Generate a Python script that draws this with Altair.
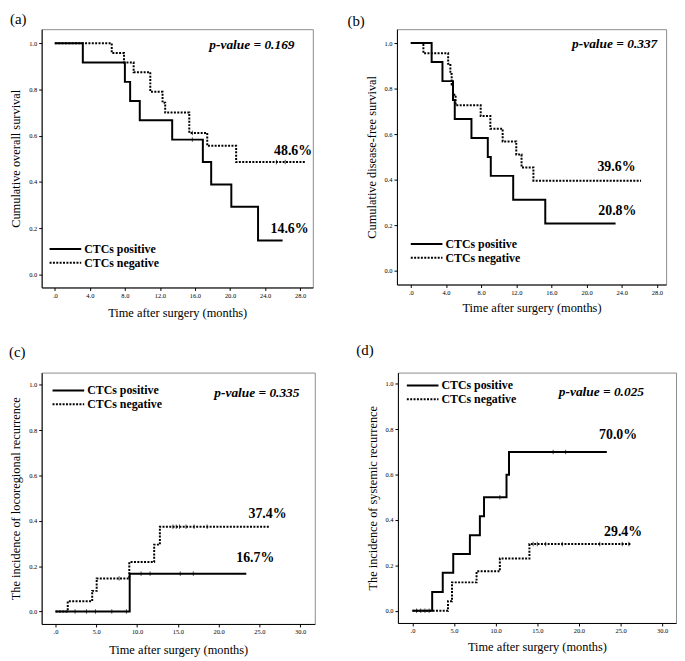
import altair as alt
import pandas as pd

FONT = "Liberation Serif"
GROUPS = ["CTCs positive", "CTCs negative"]
DASHES = [[1, 0], [2, 1.4]]

# ---------------- Panel (a): overall survival ----------------
A_POS_T = [0, 3.2, 8.0, 8.6, 9.7, 13.4, 16.9, 17.85, 20.15, 23.2, 26.0]
A_POS_S = [1.0, 0.917, 0.833, 0.75, 0.667, 0.583, 0.486, 0.389, 0.292, 0.146, 0.146]
A_NEG_T = [0, 6.5, 7.9, 9.0, 10.9, 12.3, 12.6, 15.35, 17.4, 20.7, 28.6]
A_NEG_S = [1.0, 0.958, 0.917, 0.875, 0.79, 0.743, 0.70, 0.612, 0.556, 0.486, 0.486]
A_POS_CENS = [15.7]
A_NEG_CENS = [15.7, 25.3, 26.3]

# ---------------- Panel (b): disease-free survival ----------------
B_POS_T = [0, 2.37, 3.6, 4.8, 5.0, 6.9, 8.76, 9.1, 11.65, 15.3, 23.3]
B_POS_S = [1.0, 0.917, 0.833, 0.75, 0.667, 0.583, 0.5, 0.417, 0.3125, 0.208, 0.208]
B_NEG_T = [0, 1.43, 4.25, 4.5, 4.65, 4.8, 5.1, 7.95, 9.05, 10.45, 12.0, 12.6, 13.95, 26.2]
B_NEG_S = [1.0, 0.955, 0.909, 0.864, 0.818, 0.773, 0.727, 0.68, 0.624, 0.568, 0.511, 0.454, 0.396, 0.396]
B_POS_CENS = []
B_NEG_CENS = []

# ---------------- Panel (c): locoregional recurrence ----------------
C_POS_T = [0, 9.1, 23.4]
C_POS_S = [0, 0.167, 0.167]
C_NEG_T = [0, 1.5, 4.5, 5.05, 9.05, 12.1, 12.8, 26.3]
C_NEG_S = [0, 0.045, 0.091, 0.146, 0.218, 0.295, 0.374, 0.374]
C_POS_CENS = [2.4, 3.8, 4.9, 6.9, 8.7, 10.5, 11.6, 15.3, 16.9]
C_NEG_CENS = [7.8, 14.4, 14.8, 15.2, 16.0, 17.0, 18.6]

# ---------------- Panel (d): systemic recurrence ----------------
D_POS_T = [0, 2.37, 3.64, 4.9, 6.9, 8.1, 8.6, 11.3, 11.6, 23.35]
D_POS_S = [0, 0.083, 0.167, 0.25, 0.333, 0.417, 0.5, 0.6, 0.7, 0.7]
D_NEG_T = [0, 4.27, 4.75, 7.7, 10.5, 14.05, 26.3]
D_NEG_S = [0, 0.042, 0.125, 0.174, 0.23, 0.294, 0.294]
D_POS_CENS = [0.5, 1.0, 1.5, 2.0, 10.5, 16.9, 18.4]
D_NEG_CENS = [14.5, 15.0, 16.0, 18.0, 22.5, 25.2, 26.0]

Y_TICKS = [0.0, 0.2, 0.4, 0.6, 0.8, 1.0]
X_TICKS_28 = [0, 4, 8, 12, 16, 20, 24, 28]
X_TICKS_30 = [0, 5, 10, 15, 20, 25, 30]


def step_df(t, s, group):
    return pd.DataFrame({"t": t, "s": s, "group": group})


def value_at(times, t, s):
    out = []
    for c in times:
        v = s[0]
        for ti, si in zip(t, s):
            if ti <= c:
                v = si
        out.append(v)
    return out


def legend_layers(lx, ly):
    layers = []
    for i, (g, d) in enumerate(zip(GROUPS, DASHES)):
        yy = ly + i * 14
        layers.append(
            alt.Chart(pd.DataFrame({"g": [g]})).mark_rule(
                color="black", strokeWidth=2, strokeDash=d).encode(
                x=alt.value(lx), x2=alt.value(lx + 32), y=alt.value(yy)))
        layers.append(
            alt.Chart(pd.DataFrame({"g": [g]})).mark_text(
                font=FONT, fontSize=12, fontWeight="bold", align="left",
                baseline="middle", color="black").encode(
                x=alt.value(lx + 35), y=alt.value(yy), text="g:N"))
    return layers


def panel(letter, letter_x, letter_y, pos_t, pos_s, neg_t, neg_s, pos_c, neg_c,
          xdom, xticks, ydom, w, h, ytitle, x_tp,
          pval, pval_xy, pct, legend_xy):
    lines = pd.concat([step_df(pos_t, pos_s, GROUPS[0]),
                       step_df(neg_t, neg_s, GROUPS[1])])
    cens = pd.concat([
        pd.DataFrame({"t": pos_c, "s": value_at(pos_c, pos_t, pos_s)}),
        pd.DataFrame({"t": neg_c, "s": value_at(neg_c, neg_t, neg_s)}),
    ])
    xs = alt.Scale(domain=xdom, nice=False, zero=False)
    ys = alt.Scale(domain=ydom, nice=False, zero=False)
    xaxis = alt.Axis(values=xticks, title="Time after surgery (months)",
                     labelExpr="datum.value == 0 ? '.0' : format(datum.value, '.1f')",
                     titlePadding=x_tp, labelOverlap=False)
    yaxis = alt.Axis(values=Y_TICKS, format=".1f", title=ytitle, titlePadding=6,
                     labelOverlap=False)

    line = alt.Chart(lines).mark_line(interpolate="step-after", color="black",
                                      strokeWidth=2, clip=True).encode(
        x=alt.X("t:Q", scale=xs, axis=xaxis),
        y=alt.Y("s:Q", scale=ys, axis=yaxis),
        strokeDash=alt.StrokeDash(
            "group:N", scale=alt.Scale(domain=GROUPS, range=DASHES), legend=None),
        detail="group:N",
    )
    ticks = alt.Chart(cens).mark_point(shape="M0,-1L0,1", size=20, color="black",
                                       strokeWidth=1, filled=False).encode(
        x=alt.X("t:Q", scale=xs, axis=xaxis), y=alt.Y("s:Q", scale=ys, axis=yaxis))
    ptxt = alt.Chart(pd.DataFrame({"x": [pval_xy[0]], "y": [pval_xy[1]],
                                   "t": ["p-value = " + pval]})).mark_text(
        font=FONT, fontSize=13.5, fontWeight="bold", fontStyle="italic",
        color="black").encode(x=alt.X("x:Q", scale=xs, axis=xaxis),
                              y=alt.Y("y:Q", scale=ys, axis=yaxis), text="t:N")
    pctxt = alt.Chart(pd.DataFrame({"x": [p[1] for p in pct], "y": [p[2] for p in pct],
                                    "t": [p[0] for p in pct]})).mark_text(
        font=FONT, fontSize=14, fontWeight="bold", color="black").encode(
        x=alt.X("x:Q", scale=xs, axis=xaxis), y=alt.Y("y:Q", scale=ys, axis=yaxis),
        text="t:N")
    ltxt = alt.Chart(pd.DataFrame({"t": [letter]})).mark_text(
        font=FONT, fontSize=15, align="left", baseline="top", color="black").encode(
        x=alt.value(letter_x), y=alt.value(letter_y), text="t:N")
    return alt.layer(line, ticks, ptxt, pctxt, ltxt,
                     *legend_layers(*legend_xy)).properties(width=w, height=h)


pa = panel("(a)", -32, -17, A_POS_T, A_POS_S, A_NEG_T, A_NEG_S, A_POS_CENS, A_NEG_CENS,
           [-1.5, 29.45], X_TICKS_28, [-0.057, 1.061], 274, 261,
           "Cumulative overall survival", 8,
           "0.169", (22.5, 0.994), [("48.6%", 27.2, 0.534), ("14.6%", 26.8, 0.197)],
           (8, 222))
pb = panel("(b)", -50, -15, B_POS_T, B_POS_S, B_NEG_T, B_NEG_S, B_POS_CENS, B_NEG_CENS,
           [-1.58, 29.05], X_TICKS_28, [-0.06, 1.061], 272, 258,
           "Cumulative  disease-free survival", 6,
           "0.337", (23.2, 0.996), [("39.6%", 23.4, 0.457), ("20.8%", 23.5, 0.263)],
           (14, 217))
pc = panel("(c)", -33, -28, C_POS_T, C_POS_S, C_NEG_T, C_NEG_S, C_POS_CENS, C_NEG_CENS,
           [-1.7, 31.8], X_TICKS_30, [-0.055, 1.054], 276, 254,
           "The incidence of locoregional recurrence", 8,
           "0.335", (24.7, 0.963), [("37.4%", 26.0, 0.428), ("16.7%", 24.5, 0.236)],
           (11, 18))
pd_ = panel("(d)", -42, -30, D_POS_T, D_POS_S, D_NEG_T, D_NEG_S, D_POS_CENS, D_NEG_CENS,
            [-1.745, 31.66], X_TICKS_30, [-0.054, 1.05], 281, 253,
            "The incidence of systemic recurrence", 6,
            "0.025", (22.7, 0.963), [("70.0%", 24.7, 0.773), ("29.4%", 25.3, 0.348)],
            (9, 13))


def res(c):
    return c.resolve_scale(x="independent", y="independent", strokeDash="independent")


row1 = res(alt.hconcat(pa, pb, spacing=33))
row2 = res(alt.hconcat(pc, pd_, spacing=40))
chart = res(alt.vconcat(row1, row2, spacing=22)).properties(
    padding=0, background="white"
).configure_view(stroke="#8c8c8c", strokeWidth=1).configure_axis(
    grid=False, domainColor="black", domainWidth=1, tickColor="black", tickSize=3,
    labelFont=FONT, labelFontSize=6.5, labelColor="black", labelPadding=2,
    labelOverlap=False,
    titleFont=FONT, titleFontSize=12.5, titleFontWeight="normal", titleColor="black",
)

chart.save("out.html", embed_options={"renderer": "svg", "actions": False})
